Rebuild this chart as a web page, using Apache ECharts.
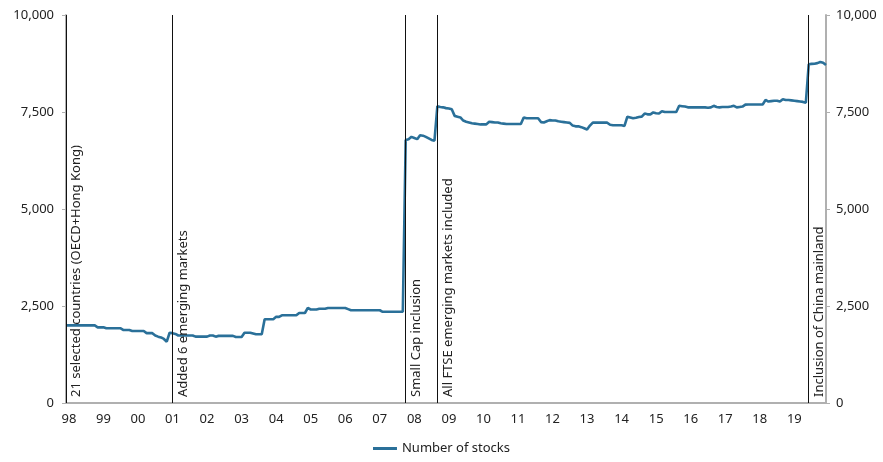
<!DOCTYPE html>
<html>
<head>
<meta charset="utf-8">
<script src="https://cdn.jsdelivr.net/npm/echarts@6/dist/echarts.min.js"></script>
<style>html,body{margin:0;padding:0;background:#fff}#c{width:883px;height:462px}</style>
</head>
<body>
<div id="c"></div>
<script>
// Monthly categories Dec 1997 .. Dec 2019
const startYear = 1997, startMonth = 12, monthCount = 265;
const months = [];
for (let k = 0; k < monthCount; k++) {
  const t = (startMonth - 1) + k;
  const y = startYear + Math.floor(t / 12);
  const m = (t % 12) + 1;
  months.push(y + '-' + (m < 10 ? '0' + m : m));
}
const xTickLabels = ['98','99','00','01','02','03','04','05','06','07','08','09','10','11','12','13','14','15','16','17','18','19'];
const yTickLabels = ['0','2,500','5,000','7,500','10,000'];
const seriesName = 'Number of stocks';
const numberOfStocks = [
  2000,2000,2000,2000,2000,2000,2000,2000,2000,2000,2000,
  1950,1950,1950,
  1925,1925,1925,1925,1925,1925,
  1880,1880,1880,
  1855,1855,1855,1855,1855,
  1800,1800,1800,
  1740,1710,1690,1650,1580,
  1810,1800,1780,
  1740,1740,1740,1740,1740,1740,
  1710,1710,1710,1710,1710,
  1740,1740,
  1710,
  1730,1730,1730,1730,1730,1730,
  1700,1700,1700,
  1810,1810,1810,
  1790,
  1770,1770,1770,
  2160,2160,2160,2160,
  2220,2220,
  2260,2260,2260,2260,2260,2260,
  2320,2320,2320,
  2450,
  2410,2410,2410,
  2430,2430,2430,
  2450,2450,2450,2450,2450,2450,2450,
  2420,
  2390,2390,2390,2390,2390,2390,2390,2390,2390,2390,2390,
  2350,2350,2350,2350,2350,2350,2350,2350,
  6780,6800,6860,6830,6800,6900,6890,6860,6820,6780,6760,
  7650,7630,7620,7600,7590,7570,7400,7380,7360,7280,7250,7230,7210,
  7200,7190,7180,7180,7180,7250,
  7240,7230,7230,7210,7200,7190,7190,7190,7190,7190,7190,
  7360,7340,7340,7340,7340,7340,7240,7230,7260,7290,7280,7280,7260,7250,7240,7230,7220,7150,7130,7130,7110,7080,7050,
  7150,7225,7225,7225,7225,7225,7225,7170,7160,7160,7160,7160,7140,
  7380,7360,7340,7350,7370,7380,7460,7440,7440,7490,7470,7460,7520,7500,7500,7500,7500,7500,
  7660,7650,7640,7620,7620,7620,7620,7620,7620,7620,7610,7620,7660,7630,7620,7630,7630,7630,7640,7660,7620,7630,7640,
  7690,7695,7695,7695,7695,7695,7695,7810,7770,7780,7790,7790,7770,7830,7810,7810,7800,7790,7780,7770,7760,7740,
  8730,8740,8745,8760,8790,8770,8710
];
const eventMonths = ['1997-12','2001-01','2007-10','2008-09','2019-06'];
const eventLabels = ['21 selected countries (OECD+Hong Kong)','Added 6 emerging markets','Small Cap inclusion','All FTSE emerging markets included','Inclusion of China mainland'];

const FONT = 'Noto Sans';
const yAxisCommon = {
  type: 'value', min: 0, max: 10000, interval: 2500,
  splitLine: { show: false },
  axisLine: { show: true, lineStyle: { color: '#b0b0b0', width: 2 } },
  axisTick: { show: true, inside: false, length: 4, lineStyle: { color: '#b0b0b0', width: 1 } },
  axisLabel: {
    color: '#222', fontFamily: FONT, fontSize: 13,
    formatter: v => yTickLabels[Math.round(v / 2500)]
  }
};

const chart = echarts.init(document.getElementById('c'), null, { renderer: 'canvas' });
chart.setOption({
  animation: false,
  backgroundColor: '#fff',
  grid: { left: 66, right: 57, top: 15, bottom: 59, containLabel: false },
  xAxis: {
    type: 'category', data: months, boundaryGap: false,
    axisLine: { show: true, lineStyle: { color: '#b0b0b0', width: 2 } },
    axisTick: { show: false },
    splitLine: { show: false },
    axisLabel: {
      color: '#222', fontFamily: FONT, fontSize: 13, margin: 10,
      interval: (idx, val) => val.slice(5) === '01',
      formatter: val => xTickLabels[parseInt(val.slice(0, 4), 10) - 1998]
    }
  },
  yAxis: [
    Object.assign({}, yAxisCommon, { position: 'left', axisLabel: Object.assign({}, yAxisCommon.axisLabel, { margin: 12 }) }),
    Object.assign({}, yAxisCommon, { position: 'right', axisLabel: Object.assign({}, yAxisCommon.axisLabel, { margin: 10 }) })
  ],
  legend: {
    bottom: 2, left: 'center',
    itemWidth: 24, itemHeight: 3, itemGap: 10,
    icon: 'rect',
    textStyle: { color: '#222', fontFamily: FONT, fontSize: 13 },
    data: [seriesName]
  },
  series: [{
    name: seriesName, type: 'line', data: numberOfStocks,
    showSymbol: false, symbol: 'none',
    lineStyle: { color: '#2a7099', width: 2.6 },
    itemStyle: { color: '#2a7099' },
    z: 3,
    markLine: {
      silent: true, symbol: ['none', 'none'],
      lineStyle: { color: '#111', width: 1, type: 'solid' },
      label: {
        show: true, position: 'insideStartBottom', distance: [6, 4],
        color: '#222', fontFamily: FONT, fontSize: 13,
        formatter: p => eventLabels[p.dataIndex]
      },
      data: eventMonths.map(m => ({ xAxis: m }))
    }
  }]
});
</script>
</body>
</html>
